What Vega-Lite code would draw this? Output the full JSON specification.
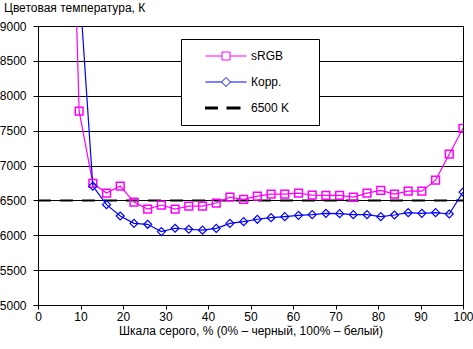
{
  "$schema": "https://vega.github.io/schema/vega-lite/v6.json",
  "autosize": {"type": "none"},
  "width": 425,
  "height": 279,
  "padding": {"left": 38, "top": 26, "right": 10, "bottom": 44},
  "background": "white",
  "config": {
    "font": "Liberation Sans",
    "view": {"stroke": "black", "strokeWidth": 1},
    "axis": {
      "labelFont": "Liberation Sans",
      "labelFontSize": 12,
      "labelColor": "black",
      "titleFont": "Liberation Sans",
      "titleFontSize": 12,
      "titleFontWeight": "normal",
      "titleColor": "black",
      "domainColor": "black",
      "tickColor": "black",
      "gridColor": "black",
      "gridOpacity": 1,
      "gridWidth": 1
    },
    "legend": {
      "labelFont": "Liberation Sans",
      "labelFontSize": 12,
      "labelColor": "black",
      "titleFont": "Liberation Sans",
      "titleFontSize": 12,
      "titleFontWeight": "normal"
    }
  },
  "datasets": {
    "series": [
      {"x": 6.45, "t": 14700, "s": "sRGB"},
      {"x": 9.68, "t": 7780, "s": "sRGB"},
      {"x": 12.9, "t": 6745, "s": "sRGB"},
      {"x": 16.13, "t": 6605, "s": "sRGB"},
      {"x": 19.35, "t": 6705, "s": "sRGB"},
      {"x": 22.58, "t": 6476, "s": "sRGB"},
      {"x": 25.81, "t": 6376, "s": "sRGB"},
      {"x": 29.03, "t": 6433, "s": "sRGB"},
      {"x": 32.26, "t": 6376, "s": "sRGB"},
      {"x": 35.48, "t": 6417, "s": "sRGB"},
      {"x": 38.71, "t": 6417, "s": "sRGB"},
      {"x": 41.94, "t": 6462, "s": "sRGB"},
      {"x": 45.16, "t": 6547, "s": "sRGB"},
      {"x": 48.39, "t": 6514, "s": "sRGB"},
      {"x": 51.61, "t": 6562, "s": "sRGB"},
      {"x": 54.84, "t": 6590, "s": "sRGB"},
      {"x": 58.06, "t": 6590, "s": "sRGB"},
      {"x": 61.29, "t": 6605, "s": "sRGB"},
      {"x": 64.52, "t": 6576, "s": "sRGB"},
      {"x": 67.74, "t": 6573, "s": "sRGB"},
      {"x": 70.97, "t": 6573, "s": "sRGB"},
      {"x": 74.19, "t": 6548, "s": "sRGB"},
      {"x": 77.42, "t": 6605, "s": "sRGB"},
      {"x": 80.65, "t": 6643, "s": "sRGB"},
      {"x": 83.87, "t": 6590, "s": "sRGB"},
      {"x": 87.1, "t": 6633, "s": "sRGB"},
      {"x": 90.32, "t": 6633, "s": "sRGB"},
      {"x": 93.55, "t": 6790, "s": "sRGB"},
      {"x": 96.77, "t": 7162, "s": "sRGB"},
      {"x": 100, "t": 7533, "s": "sRGB"},
      {"x": 9.68, "t": 9640, "s": "Корр."},
      {"x": 12.9, "t": 6705, "s": "Корр."},
      {"x": 16.13, "t": 6438, "s": "Корр."},
      {"x": 19.35, "t": 6276, "s": "Корр."},
      {"x": 22.58, "t": 6171, "s": "Корр."},
      {"x": 25.81, "t": 6157, "s": "Корр."},
      {"x": 29.03, "t": 6053, "s": "Корр."},
      {"x": 32.26, "t": 6100, "s": "Корр."},
      {"x": 35.48, "t": 6086, "s": "Корр."},
      {"x": 38.71, "t": 6073, "s": "Корр."},
      {"x": 41.94, "t": 6098, "s": "Корр."},
      {"x": 45.16, "t": 6171, "s": "Корр."},
      {"x": 48.39, "t": 6195, "s": "Корр."},
      {"x": 51.61, "t": 6229, "s": "Корр."},
      {"x": 54.84, "t": 6252, "s": "Корр."},
      {"x": 58.06, "t": 6267, "s": "Корр."},
      {"x": 61.29, "t": 6286, "s": "Корр."},
      {"x": 64.52, "t": 6295, "s": "Корр."},
      {"x": 67.74, "t": 6314, "s": "Корр."},
      {"x": 70.97, "t": 6310, "s": "Корр."},
      {"x": 74.19, "t": 6295, "s": "Корр."},
      {"x": 77.42, "t": 6295, "s": "Корр."},
      {"x": 80.65, "t": 6267, "s": "Корр."},
      {"x": 83.87, "t": 6290, "s": "Корр."},
      {"x": 87.1, "t": 6324, "s": "Корр."},
      {"x": 90.32, "t": 6314, "s": "Корр."},
      {"x": 93.55, "t": 6324, "s": "Корр."},
      {"x": 96.77, "t": 6305, "s": "Корр."},
      {"x": 100, "t": 6619, "s": "Корр."}
    ],
    "target": [
      {"x": 0, "t": 6500, "s": "6500 K"},
      {"x": 100, "t": 6500, "s": "6500 K"}
    ]
  },
  "encoding": {
    "x": {
      "field": "x",
      "type": "quantitative",
      "scale": {"domain": [0, 100], "nice": false},
      "axis": {
        "title": "Шкала серого, % (0% – черный, 100% – белый)",
        "values": [0, 10, 20, 30, 40, 50, 60, 70, 80, 90, 100],
        "grid": false,
        "tickSize": 4,
        "labelPadding": 2,
        "titlePadding": 3,
        "labelFlush": false
      }
    },
    "y": {
      "field": "t",
      "type": "quantitative",
      "scale": {"domain": [5000, 9000], "nice": false, "zero": false},
      "axis": {
        "title": "Цветовая температура, К",
        "format": "d",
        "titleAngle": 0,
        "titleAlign": "left",
        "titleBaseline": "alphabetic",
        "titleX": -34.5,
        "titleY": -15,
        "values": [5000, 5500, 6000, 6500, 7000, 7500, 8000, 8500, 9000],
        "grid": true,
        "tickSize": 5,
        "labelPadding": 7,
        "labelFlush": false
      }
    },
    "color": {
      "field": "s",
      "type": "nominal",
      "scale": {"domain": ["sRGB", "Корр.", "6500 K"], "range": ["#ff00ff", "#0000ff", "#000000"]},
      "legend": {
        "title": " ",
        "titleOrient": "left",
        "titlePadding": 28,
        "orient": "none",
        "legendX": 143,
        "legendY": 13,
        "padding": 11,
        "strokeColor": "black",
        "fillColor": "white",
        "symbolSize": 400,
        "rowPadding": 13,
        "labelOffset": 19,
        "labelExpr": "datum.label + '\u2800\u2800'",
        "encode": {
          "symbols": {
            "update": {
              "shape": {"signal": "datum.value === 'sRGB' ? 'M-2.05,0H-0.4M0.4,0H2.05M-0.4,-0.4H0.4V0.4H-0.4Z' : datum.value === '6500 K' ? 'M-2.1,0H-0.8M0.05,0H1.45' : 'M-2.05,0H-0.45M0.45,0H2.05M0,-0.45L0.45,0L0,0.45L-0.45,0Z'"},
              "strokeWidth": {"signal": "datum.value === '6500 K' ? 3 : 1"},
              "fill": {"value": "transparent"},
              "fillOpacity": {"value": 0},
              "stroke": {"scale": "color", "field": "value"},
              "opacity": {"value": 1}
            }
          }
        }
      }
    }
  },
  "layer": [
    {
      "data": {"name": "target"},
      "mark": {"type": "line", "strokeDash": [13, 9], "strokeWidth": 2, "clip": true}
    },
    {
      "data": {"name": "series"},
      "mark": {"type": "line", "strokeWidth": 1.2, "clip": true}
    },
    {
      "data": {"name": "series"},
      "transform": [{"filter": "datum.s === 'sRGB'"}],
      "mark": {"type": "point", "shape": "square", "filled": false, "size": 60, "strokeWidth": 1.5, "opacity": 1, "clip": true}
    },
    {
      "data": {"name": "series"},
      "transform": [{"filter": "datum.s === 'Корр.'"}],
      "mark": {"type": "point", "shape": "diamond", "filled": false, "size": 64, "strokeWidth": 1.2, "opacity": 1, "clip": true}
    }
  ]
}
